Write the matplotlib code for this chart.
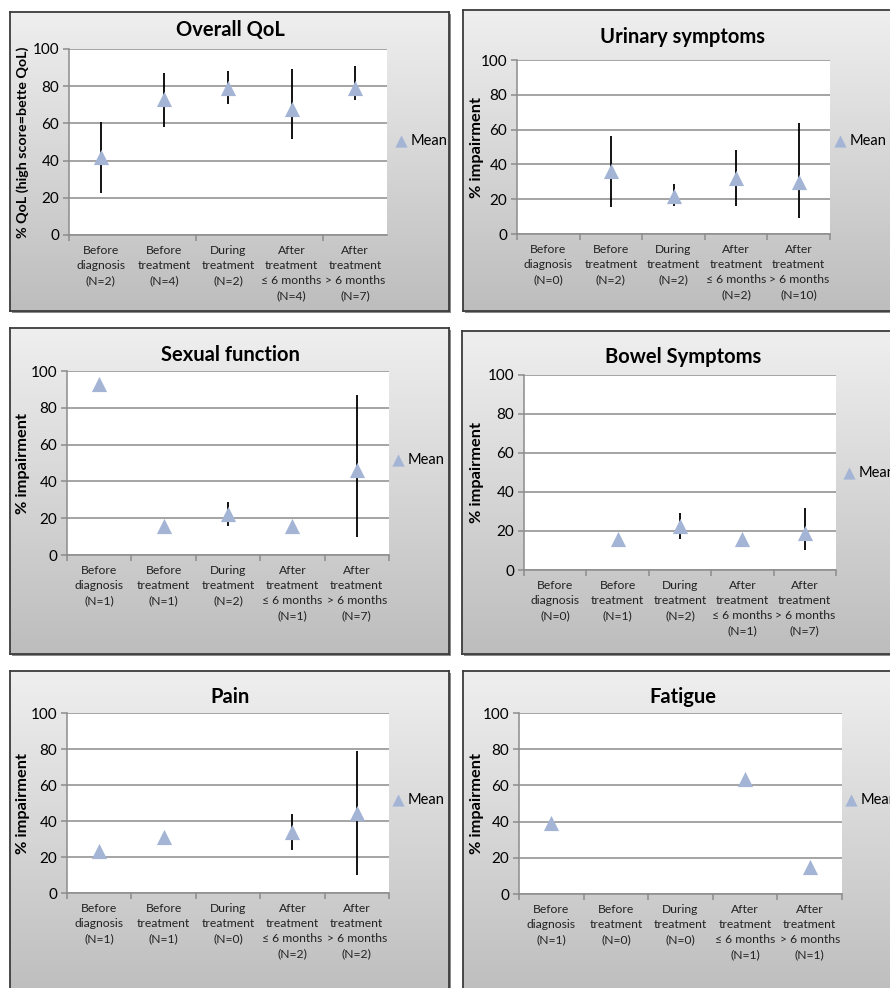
import matplotlib
matplotlib.use("Agg")
import matplotlib.pyplot as plt
from matplotlib.colors import LinearSegmentedColormap
import numpy as np

nan = np.nan

# category labels (shared wording, different N per panel)
stages = ["Before\ndiagnosis", "Before\ntreatment", "During\ntreatment",
          "After\ntreatment\n\u2264 6 months", "After\ntreatment\n> 6 months"]

qol_n = [2, 4, 2, 4, 7]
qol_mean = [42, 73, 79, 68, 79]
qol_low = [22.5, 58, 70.5, 51.5, 72.5]
qol_high = [61, 87, 88, 89, 91]

uri_n = [0, 2, 2, 2, 10]
uri_mean = [nan, 36, 22, 32, 30]
uri_low = [nan, 15.5, 16, 16, 9]
uri_high = [nan, 56.5, 29, 48, 64]

sex_n = [1, 1, 2, 1, 7]
sex_mean = [93, 15.5, 22.5, 16, 46]
sex_low = [nan, nan, 16, nan, 10]
sex_high = [nan, nan, 29, nan, 87]

bow_n = [0, 1, 2, 1, 7]
bow_mean = [nan, 16, 22.5, 16, 19]
bow_low = [nan, nan, 16, nan, 10]
bow_high = [nan, nan, 29, nan, 32]

pain_n = [1, 1, 0, 2, 2]
pain_mean = [23.5, 31, nan, 34, 44.5]
pain_low = [nan, nan, nan, 24, 10]
pain_high = [nan, nan, nan, 44, 79]

fat_n = [1, 0, 0, 1, 1]
fat_mean = [39, nan, nan, 63.5, 15]
fat_low = [nan, nan, nan, nan, nan]
fat_high = [nan, nan, nan, nan, nan]

plt.rcParams['font.family'] = ['Lato', 'Noto Sans', 'DejaVu Sans']

W, H = 890, 988
fig = plt.figure(figsize=(W / 100, H / 100), dpi=100)
fig.patch.set_facecolor('white')

grey_bg = LinearSegmentedColormap.from_list('bg', ['#bdbdbd', '#efefef'])
marker_col = '#a3b4d5'
grid_col = '#8c8c8c'


def px_rect(x0, y0, x1, y1):
    return [x0 / W, 1 - y1 / H, (x1 - x0) / W, (y1 - y0) / H]


def panel(box, area, title, title_xy, ylabel, ylabel_x, n, mean, low, high,
          legend_xy, tick_step=1, ylabel_size=11.8):
    # shadow + gradient box
    sh = fig.add_axes(px_rect(box[0] + 2, box[1] + 2, box[2] + 2, box[3] + 2))
    sh.set_facecolor('#8a8a8a')
    sh.set_xticks([]); sh.set_yticks([])
    for s in sh.spines.values():
        s.set_visible(False)
    bg = fig.add_axes(px_rect(*box))
    bg.imshow(np.linspace(0, 1, 256).reshape(-1, 1), cmap=grey_bg,
              aspect='auto', extent=[0, 1, 0, 1], origin='lower')
    bg.set_xticks([]); bg.set_yticks([])
    for s in bg.spines.values():
        s.set_color('#3c3c3c')
        s.set_linewidth(1.3)

    ax = fig.add_axes(px_rect(*area))
    ax.set_facecolor('white')
    x = np.arange(1, 6)
    ax.vlines(x, low, high, color='black', linewidth=1.3, zorder=2)
    ax.scatter(x, mean, marker='^', s=120, color=marker_col, zorder=3,
               label='Mean', linewidths=0)
    ax.set_xlim(0.5, 5.5)
    ax.set_ylim(0, 100)
    ax.set_yticks([0, 20, 40, 60, 80, 100])
    ax.yaxis.grid(True, color=grid_col, linewidth=1.1)
    ax.set_axisbelow(True)
    ax.set_xticks(np.arange(0.5, 5.6, tick_step))
    ax.set_xticklabels([])
    ax.set_xticks(x, minor=True)
    ax.set_xticklabels([f"{s}\n(N={k})" for s, k in zip(stages, n)],
                       minor=True, fontsize=8.7, linespacing=1.45,
                       color='#222222')
    ax.tick_params(axis='x', which='minor', length=0, pad=7)
    ax.tick_params(axis='x', which='major', length=4, direction='out',
                   color=grid_col, width=1.1)
    ax.tick_params(axis='y', length=4, direction='out', color=grid_col,
                   width=1.1, labelsize=11, pad=3)
    for side in ['top', 'right']:
        ax.spines[side].set_visible(False)
    for side in ['left', 'bottom']:
        ax.spines[side].set_color(grid_col)
        ax.spines[side].set_linewidth(1.1)

    fig.text(title_xy[0] / W, 1 - title_xy[1] / H, title, ha='center',
             va='center', fontsize=14.5, fontweight='bold')
    fig.text(ylabel_x / W, 1 - (area[1] + area[3]) / 2 / H, ylabel,
             rotation=90, ha='center', va='center', fontsize=ylabel_size,
             fontweight='bold')
    ax.legend(loc='center left',
              bbox_to_anchor=(legend_xy[0] / W, 1 - legend_xy[1] / H),
              bbox_transform=fig.transFigure, frameon=False, fontsize=10.5,
              handlelength=0.8, handletextpad=0.3, borderpad=0,
              borderaxespad=0, markerscale=0.8)
    return ax


panel((10, 12, 449, 311), (69, 49, 387, 235), "Overall QoL", (230, 30),
      "% QoL (high score=bette QoL)", 23, qol_n, qol_mean, qol_low, qol_high,
      (395, 141), tick_step=2, ylabel_size=10.3)
panel((463, 10, 900, 311), (517, 60, 830, 234), "Urinary symptoms", (683, 37),
      "% impairment", 477, uri_n, uri_mean, uri_low, uri_high, (834, 141))
panel((10, 328, 449, 654), (67, 371, 389, 555), "Sexual function", (230, 355),
      "% impairment", 23, sex_n, sex_mean, sex_low, sex_high, (392, 460))
panel((462, 331, 900, 654), (524, 375, 836, 570), "Bowel Symptoms", (683, 357),
      "% impairment", 477, bow_n, bow_mean, bow_low, bow_high, (843, 473))
panel((10, 671, 449, 1000), (67, 713, 389, 893), "Pain", (230, 697),
      "% impairment", 23, pain_n, pain_mean, pain_low, pain_high, (392, 800))
panel((463, 671, 900, 1000), (519, 713, 842, 894), "Fatigue", (683, 697),
      "% impairment", 477, fat_n, fat_mean, fat_low, fat_high, (845, 800))

fig.savefig("out.png", dpi=100)
